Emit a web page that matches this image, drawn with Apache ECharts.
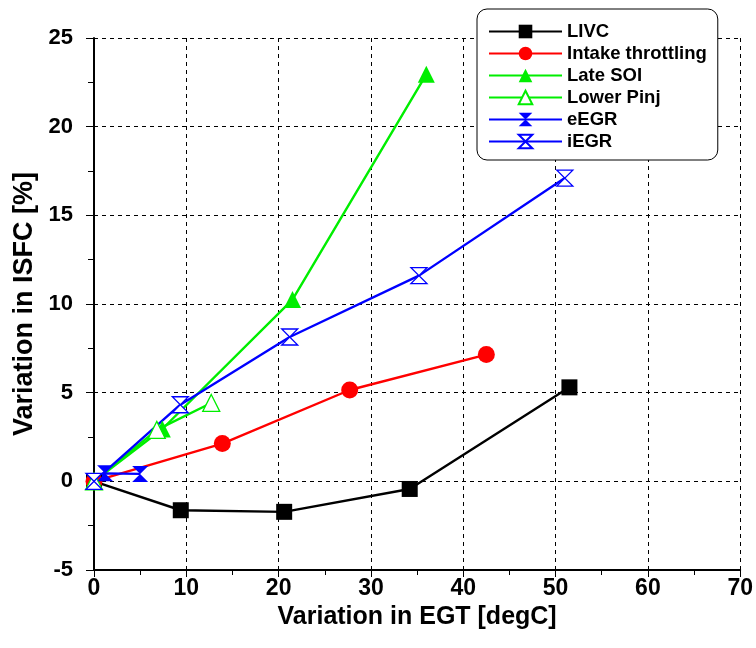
<!DOCTYPE html>
<html>
<head>
<meta charset="utf-8">
<script src="https://cdn.jsdelivr.net/npm/echarts@6/dist/echarts.min.js"></script>
<style>html,body{margin:0;padding:0;background:#fff}#c{width:756px;height:648px}</style>
</head>
<body>
<div id="c"></div>
<script>
const seriesNames = ['LIVC', 'Intake throttling', 'Late SOI', 'Lower Pinj', 'eEGR', 'iEGR'];
const livcX = [0, 9.4, 20.6, 34.2, 51.5];
const livcY = [0, -1.63, -1.72, -0.43, 5.3];
const intakeX = [0, 13.9, 27.7, 42.5];
const intakeY = [0, 2.13, 5.15, 7.15];
const lateSoiX = [0, 7.4, 21.5, 36.0];
const lateSoiY = [0, 2.95, 10.25, 22.95];
const lowerPinjX = [0, 6.8, 12.7];
const lowerPinjY = [0, 2.9, 4.42];
const eegrX = [0, 1.2, 5.0];
const eegrY = [0, 0.45, 0.42];
const iegrX = [0, 9.35, 21.2, 35.2, 51.0];
const iegrY = [0, 4.32, 8.14, 11.6, 17.1];
const xTicks = [0, 10, 20, 30, 40, 50, 60, 70];
const yTicks = [-5, 0, 5, 10, 15, 20, 25];

const pairs = (xs, ys) => xs.map((x, i) => [x, ys[i]]);
const hourglass = 'path://M0,0L10,0L0,10L10,10Z';
const font = '"Liberation Sans", Arial, Helvetica, sans-serif';

function mk(name, xs, ys, color, symbol, size, open) {
  return {
    name: name, type: 'line', data: pairs(xs, ys),
    symbol: symbol, symbolSize: size, showSymbol: true,
    lineStyle: { color: color, width: 2.4 },
    itemStyle: open ? { color: '#fff', borderColor: color, borderWidth: 1.3 }
                    : { color: color, borderWidth: 0 },
    emphasis: { disabled: true },
    animation: false, z: 3
  };
}

const chart = echarts.init(document.getElementById('c'), null, { renderer: 'canvas' });
chart.setOption({
  animation: false,
  backgroundColor: '#fff',
  grid: { left: 94, right: 13, top: 38, bottom: 78 },
  legend: {
    orient: 'vertical', left: 477, top: 9,
    data: seriesNames,
    itemWidth: 73, itemHeight: 17, itemGap: 3,
    padding: [13, 11, 9, 11],
    borderColor: '#000', borderWidth: 1, borderRadius: 10,
    backgroundColor: '#fff',
    textStyle: { fontFamily: font, fontWeight: 'bold', fontSize: 18.5, color: '#000', lineHeight: 17 },
    selectedMode: false
  },
  xAxis: {
    type: 'value', min: xTicks[0], max: xTicks[xTicks.length - 1], interval: 10,
    name: 'Variation in EGT [degC]', nameLocation: 'middle', nameGap: 17,
    nameTextStyle: { fontFamily: font, fontWeight: 'bold', fontSize: 25, color: '#000' },
    axisLine: { show: true, onZero: false, lineStyle: { color: '#000', width: 2 } },
    axisTick: { show: true, length: 7, lineStyle: { color: '#000', width: 1 } },
    minorTick: { show: true, splitNumber: 2, length: 5, lineStyle: { color: '#000', width: 1 } },
    axisLabel: { fontFamily: font, fontWeight: 'bold', fontSize: 23, color: '#000', margin: 7 },
    splitLine: { show: true, lineStyle: { color: '#000', width: 1, type: [4, 4] } }
  },
  yAxis: {
    type: 'value', min: yTicks[0], max: yTicks[yTicks.length - 1], interval: 5,
    name: 'Variation in ISFC [%]', nameLocation: 'middle', nameGap: 53,
    nameTextStyle: { fontFamily: font, fontWeight: 'bold', fontSize: 27, color: '#000' },
    axisLine: { show: true, onZero: false, lineStyle: { color: '#000', width: 2 } },
    axisTick: { show: true, length: 8, lineStyle: { color: '#000', width: 1 } },
    minorTick: { show: true, splitNumber: 2, length: 6, lineStyle: { color: '#000', width: 1 } },
    axisLabel: { fontFamily: font, fontWeight: 'bold', fontSize: 22, color: '#000', margin: 21 },
    splitLine: { show: true, lineStyle: { color: '#000', width: 1, type: [4, 4] } }
  },
  series: [
    mk(seriesNames[0], livcX, livcY, '#000000', 'rect', 16, false),
    mk(seriesNames[1], intakeX, intakeY, '#ff0000', 'circle', 17, false),
    mk(seriesNames[2], lateSoiX, lateSoiY, '#00ee00', 'triangle', 17, false),
    mk(seriesNames[3], lowerPinjX, lowerPinjY, '#00ee00', 'triangle', 17, true),
    mk(seriesNames[4], eegrX, eegrY, '#0000ff', hourglass, 16, false),
    mk(seriesNames[5], iegrX, iegrY, '#0000ff', hourglass, 16, true)
  ]
});
</script>
</body>
</html>
